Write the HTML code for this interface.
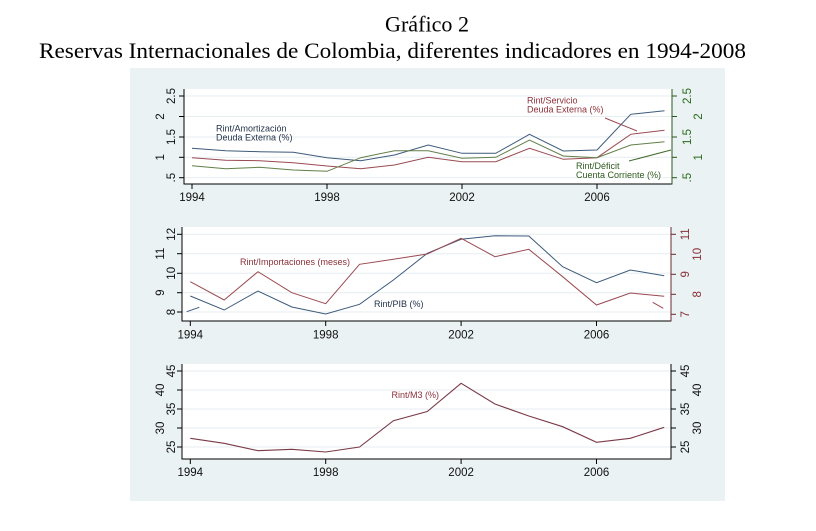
<!DOCTYPE html>
<html>
<head>
<meta charset="utf-8">
<style>
  html, body { margin: 0; padding: 0; background: #ffffff; }
  svg { display: block; }
  .tick { font-family: "Liberation Sans", sans-serif; font-size: 11.5px; }
  .ann { font-family: "Liberation Sans", sans-serif; font-size: 9px; }
  .title { font-family: "Liberation Serif", serif; font-size: 22px; fill: #000; }
</style>
</head>
<body>
<svg width="816" height="531" viewBox="0 0 816 531" xmlns="http://www.w3.org/2000/svg">
  <rect x="0" y="0" width="816" height="531" fill="#ffffff"/>
  <!-- Titles -->
  <text class="title" x="385" y="31.5" textLength="84" lengthAdjust="spacingAndGlyphs">Gráfico 2</text>
  <text class="title" x="39" y="58" textLength="707" lengthAdjust="spacingAndGlyphs">Reservas Internacionales de Colombia, diferentes indicadores en 1994-2008</text>

  <!-- Graph background -->
  <rect x="130" y="68" width="595" height="433" fill="#eaf2f3"/>

  <!-- ================= TOP PANEL ================= -->
  <rect x="184" y="89" width="488" height="95" fill="#ffffff"/>
  <g stroke="#e6eef0" stroke-width="1">
    <line x1="184" y1="96" x2="672" y2="96"/>
    <line x1="184" y1="116.5" x2="672" y2="116.5"/>
    <line x1="184" y1="137" x2="672" y2="137"/>
    <line x1="184" y1="157.3" x2="672" y2="157.3"/>
    <line x1="184" y1="177.7" x2="672" y2="177.7"/>
  </g>
  <!-- series -->
  <polyline fill="none" stroke="#3d5a7a" stroke-width="1"
    points="192,148.3 225.75,150.7 259.5,151.7 293.25,152.3 327,157.7 360.75,160.7 394.5,155 428.25,145 462,153.3 495.75,153.3 529.5,134.3 563.25,151 597,150 630.75,114.3 664.5,110.7"/>
  <polyline fill="none" stroke="#9a4a52" stroke-width="1"
    points="192,157.7 225.75,160.3 259.5,160.7 293.25,162.7 327,166 360.75,168.7 394.5,165 428.25,157.3 462,161.7 495.75,161.7 529.5,148.3 563.25,159.3 597,157.7 630.75,134.3 664.5,130.3"/>
  <polyline fill="none" stroke="#627f48" stroke-width="1"
    points="192,165.7 225.75,168.7 259.5,167.3 293.25,170 327,171.3 360.75,157.7 394.5,150.7 428.25,150.7 462,158.3 495.75,157.3 529.5,140 563.25,156 597,157.7 630.75,145 664.5,141.7"/>
  <!-- connector lines -->
  <line x1="605" y1="118" x2="637" y2="131" stroke="#9a4a52" stroke-width="1"/>
  <line x1="629" y1="161" x2="671" y2="150" stroke="#3f6a2a" stroke-width="1"/>
  <!-- annotations -->
  <text class="ann" x="216" y="131.7" fill="#1f2f45">Rint/Amortización</text>
  <text class="ann" x="216" y="140.7" fill="#1f2f45">Deuda Externa (%)</text>
  <text class="ann" x="527" y="103.3" fill="#8a3038">Rint/Servicio</text>
  <text class="ann" x="527" y="112.3" fill="#8a3038">Deuda Externa (%)</text>
  <text class="ann" x="576" y="169" fill="#2f5a1e">Rint/Déficit</text>
  <text class="ann" x="576" y="178" fill="#2f5a1e">Cuenta Corriente (%)</text>
  <!-- axes -->
  <line x1="184" y1="89" x2="184" y2="184.5" stroke="#000" stroke-width="1"/>
  <line x1="184" y1="184" x2="672" y2="184" stroke="#000" stroke-width="1"/>
  <line x1="672" y1="89" x2="672" y2="184.5" stroke="#2a5a1c" stroke-width="1"/>
  <g stroke="#000" stroke-width="1">
    <line x1="179" y1="96" x2="184" y2="96"/>
    <line x1="179" y1="116.5" x2="184" y2="116.5"/>
    <line x1="179" y1="137" x2="184" y2="137"/>
    <line x1="179" y1="157.3" x2="184" y2="157.3"/>
    <line x1="179" y1="177.7" x2="184" y2="177.7"/>
    <line x1="192" y1="184" x2="192" y2="189"/>
    <line x1="327" y1="184" x2="327" y2="189"/>
    <line x1="462" y1="184" x2="462" y2="189"/>
    <line x1="597" y1="184" x2="597" y2="189"/>
  </g>
  <g stroke="#2a5a1c" stroke-width="1">
    <line x1="672" y1="96" x2="677" y2="96"/>
    <line x1="672" y1="116.5" x2="677" y2="116.5"/>
    <line x1="672" y1="137" x2="677" y2="137"/>
    <line x1="672" y1="157.3" x2="677" y2="157.3"/>
    <line x1="672" y1="177.7" x2="677" y2="177.7"/>
  </g>
  <g class="tick" fill="#111" text-anchor="middle">
    <text transform="translate(175,96) rotate(-90)">2.5</text>
    <text transform="translate(164,116.5) rotate(-90)">2</text>
    <text transform="translate(175,137) rotate(-90)">1.5</text>
    <text transform="translate(164,157.3) rotate(-90)">1</text>
    <text transform="translate(175,177.7) rotate(-90)">.5</text>
    <text x="192" y="201">1994</text>
    <text x="327" y="201">1998</text>
    <text x="462" y="201">2002</text>
    <text x="597" y="201">2006</text>
  </g>
  <g class="tick" fill="#2a6a1c" text-anchor="middle">
    <text transform="translate(691,96) rotate(-90)">2.5</text>
    <text transform="translate(702,116.5) rotate(-90)">2</text>
    <text transform="translate(691,137) rotate(-90)">1.5</text>
    <text transform="translate(702,157.3) rotate(-90)">1</text>
    <text transform="translate(691,177.7) rotate(-90)">.5</text>
  </g>

  <!-- ================= MIDDLE PANEL ================= -->
  <rect x="182" y="227" width="489" height="94" fill="#ffffff"/>
  <g stroke="#e6eef0" stroke-width="1">
    <line x1="182" y1="234.3" x2="671" y2="234.3"/>
    <line x1="182" y1="253.7" x2="671" y2="253.7"/>
    <line x1="182" y1="273.3" x2="671" y2="273.3"/>
    <line x1="182" y1="292.7" x2="671" y2="292.7"/>
    <line x1="182" y1="312" x2="671" y2="312"/>
  </g>
  <polyline fill="none" stroke="#3d5a7a" stroke-width="1"
    points="190.3,296 224.15,310 258,291 291.85,307 325.7,314 359.55,304.3 393.4,280 427.25,253.3 461.1,239.3 494.95,235.7 528.8,236 562.65,266.7 596.5,282.7 630.35,270 664.2,275.7"/>
  <polyline fill="none" stroke="#9a4a52" stroke-width="1"
    points="190.3,281.7 224.15,300 258,271.7 291.85,292.7 325.7,303.7 359.55,264.3 393.4,259.3 427.25,254 461.1,238.3 494.95,256.7 528.8,249.3 562.65,276.7 596.5,305 630.35,293 664.2,296.3"/>
  <line x1="186.7" y1="311.7" x2="199.3" y2="307.3" stroke="#3d5a7a" stroke-width="1"/>
  <line x1="652.7" y1="302.3" x2="663.3" y2="308.3" stroke="#9a4a52" stroke-width="1"/>
  <text class="ann" x="240" y="265" fill="#8a3038">Rint/Importaciones (meses)</text>
  <text class="ann" x="374" y="307" fill="#1f2f45">Rint/PIB (%)</text>
  <line x1="182" y1="227" x2="182" y2="321.5" stroke="#000" stroke-width="1"/>
  <line x1="182" y1="321" x2="671" y2="321" stroke="#000" stroke-width="1"/>
  <line x1="671" y1="227" x2="671" y2="321.5" stroke="#6a2a30" stroke-width="1"/>
  <g stroke="#000" stroke-width="1">
    <line x1="177" y1="234.3" x2="182" y2="234.3"/>
    <line x1="177" y1="253.7" x2="182" y2="253.7"/>
    <line x1="177" y1="273.3" x2="182" y2="273.3"/>
    <line x1="177" y1="292.7" x2="182" y2="292.7"/>
    <line x1="177" y1="312" x2="182" y2="312"/>
    <line x1="190.3" y1="321" x2="190.3" y2="326"/>
    <line x1="325.7" y1="321" x2="325.7" y2="326"/>
    <line x1="461.1" y1="321" x2="461.1" y2="326"/>
    <line x1="596.5" y1="321" x2="596.5" y2="326"/>
  </g>
  <g stroke="#6a2a30" stroke-width="1">
    <line x1="671" y1="234.3" x2="676" y2="234.3"/>
    <line x1="671" y1="254.3" x2="676" y2="254.3"/>
    <line x1="671" y1="274.3" x2="676" y2="274.3"/>
    <line x1="671" y1="294.3" x2="676" y2="294.3"/>
    <line x1="671" y1="314.3" x2="676" y2="314.3"/>
  </g>
  <g class="tick" fill="#111" text-anchor="middle">
    <text transform="translate(175,234.3) rotate(-90)">12</text>
    <text transform="translate(164,253.7) rotate(-90)">11</text>
    <text transform="translate(175,273.3) rotate(-90)">10</text>
    <text transform="translate(164,292.7) rotate(-90)">9</text>
    <text transform="translate(175,312) rotate(-90)">8</text>
    <text x="190.3" y="338.5">1994</text>
    <text x="325.7" y="338.5">1998</text>
    <text x="461.1" y="338.5">2002</text>
    <text x="596.5" y="338.5">2006</text>
  </g>
  <g class="tick" fill="#8a3038" text-anchor="middle">
    <text transform="translate(689,234.3) rotate(-90)">11</text>
    <text transform="translate(701,254.3) rotate(-90)">10</text>
    <text transform="translate(689,274.3) rotate(-90)">9</text>
    <text transform="translate(701,294.3) rotate(-90)">8</text>
    <text transform="translate(689,314.3) rotate(-90)">7</text>
  </g>

  <!-- ================= BOTTOM PANEL ================= -->
  <rect x="182" y="364" width="489" height="95" fill="#ffffff"/>
  <g stroke="#e6eef0" stroke-width="1">
    <line x1="182" y1="371" x2="671" y2="371"/>
    <line x1="182" y1="390" x2="671" y2="390"/>
    <line x1="182" y1="409" x2="671" y2="409"/>
    <line x1="182" y1="428" x2="671" y2="428"/>
    <line x1="182" y1="447" x2="671" y2="447"/>
  </g>
  <polyline fill="none" stroke="#7a3a48" stroke-width="1.1"
    points="190.3,438.3 224.15,443.3 258,450.7 291.85,449.3 325.7,452 359.55,447 393.4,420.7 427.25,411.5 461.1,383.3 494.95,404 528.8,416 562.65,426.7 596.5,442.3 630.35,438.3 664.2,427.3"/>
  <text class="ann" x="391.5" y="398" fill="#8a3038">Rint/M3 (%)</text>
  <line x1="182" y1="364" x2="182" y2="459.5" stroke="#000" stroke-width="1"/>
  <line x1="182" y1="459" x2="671" y2="459" stroke="#000" stroke-width="1"/>
  <line x1="671" y1="364" x2="671" y2="459.5" stroke="#000" stroke-width="1"/>
  <g stroke="#000" stroke-width="1">
    <line x1="177" y1="371" x2="182" y2="371"/>
    <line x1="177" y1="390" x2="182" y2="390"/>
    <line x1="177" y1="409" x2="182" y2="409"/>
    <line x1="177" y1="428" x2="182" y2="428"/>
    <line x1="177" y1="447" x2="182" y2="447"/>
    <line x1="671" y1="371" x2="676" y2="371"/>
    <line x1="671" y1="390" x2="676" y2="390"/>
    <line x1="671" y1="409" x2="676" y2="409"/>
    <line x1="671" y1="428" x2="676" y2="428"/>
    <line x1="671" y1="447" x2="676" y2="447"/>
    <line x1="190.3" y1="459" x2="190.3" y2="464"/>
    <line x1="325.7" y1="459" x2="325.7" y2="464"/>
    <line x1="461.1" y1="459" x2="461.1" y2="464"/>
    <line x1="596.5" y1="459" x2="596.5" y2="464"/>
  </g>
  <g class="tick" fill="#111" text-anchor="middle">
    <text transform="translate(175,371) rotate(-90)">45</text>
    <text transform="translate(164,390) rotate(-90)">40</text>
    <text transform="translate(175,409) rotate(-90)">35</text>
    <text transform="translate(164,428) rotate(-90)">30</text>
    <text transform="translate(175,447) rotate(-90)">25</text>
    <text transform="translate(689,371) rotate(-90)">45</text>
    <text transform="translate(701,390) rotate(-90)">40</text>
    <text transform="translate(689,409) rotate(-90)">35</text>
    <text transform="translate(701,428) rotate(-90)">30</text>
    <text transform="translate(689,447) rotate(-90)">25</text>
    <text x="190.3" y="476">1994</text>
    <text x="325.7" y="476">1998</text>
    <text x="461.1" y="476">2002</text>
    <text x="596.5" y="476">2006</text>
  </g>
</svg>
</body>
</html>
